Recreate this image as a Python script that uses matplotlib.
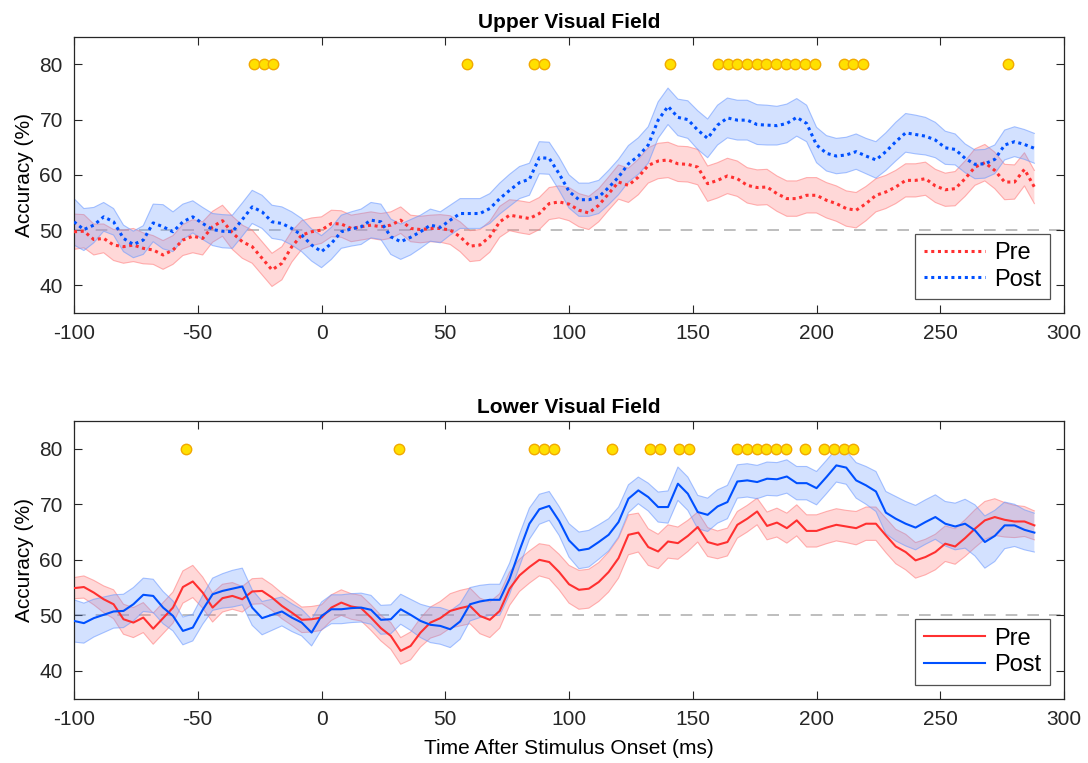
import numpy as np
import matplotlib.pyplot as plt

plt.rcParams['font.family'] = ['Liberation Sans', 'DejaVu Sans']
plt.rcParams['axes.unicode_minus'] = False

# time axis (ms), one sample every 4 ms
times = np.arange(-100, 289, 4)

# ---- Upper visual field ----
upper_pre = [
    49.7, 49.8, 48.3, 48.5, 47.3, 47.0, 47.3, 46.7, 46.4, 45.5,
    46.4, 48.2, 48.9, 48.5, 50.6, 51.7, 49.5, 47.9, 47.0, 44.9,
    42.8, 44.0, 47.0, 49.1, 49.7, 50.0, 51.2, 51.1, 50.3, 50.6,
    50.9, 50.6, 50.9, 51.8, 50.3, 50.1, 50.3, 50.3, 50.0, 48.8,
    47.1, 47.3, 48.8, 51.5, 52.7, 52.4, 52.1, 53.0, 54.8, 55.1,
    54.7, 53.6, 53.1, 54.5, 56.6, 58.7, 58.1, 59.6, 61.7, 62.5,
    62.7, 62.0, 61.9, 61.4, 58.4, 59.0, 59.8, 59.3, 58.1, 57.7,
    57.8, 56.6, 55.7, 55.7, 56.3, 56.3, 55.4, 54.8, 53.9, 53.6,
    54.8, 56.3, 56.9, 57.8, 59.0, 59.0, 59.3, 58.0, 57.3, 57.5,
    59.3, 61.4, 62.2, 60.8, 58.7, 58.7, 61.0, 57.8]
upper_pre_sem = [
    3.2, 3.0, 2.8, 2.6, 2.8, 3.0, 3.0, 2.8, 2.6, 2.6,
    2.6, 2.8, 3.0, 3.0, 2.8, 2.8, 3.0, 3.0, 3.0, 3.0,
    3.0, 3.0, 2.8, 2.6, 2.5, 2.4, 2.4, 2.4, 2.4, 2.4,
    2.4, 2.4, 2.4, 2.4, 2.4, 2.4, 2.4, 2.5, 2.6, 2.7,
    2.8, 2.8, 2.8, 2.8, 2.8, 2.9, 2.9, 2.9, 2.9, 2.9,
    3.0, 3.0, 3.0, 3.0, 3.0, 3.1, 3.1, 3.2, 3.2, 3.2,
    3.2, 3.2, 3.2, 3.2, 3.2, 3.2, 3.2, 3.2, 3.2, 3.2,
    3.2, 3.2, 3.2, 3.2, 3.2, 3.2, 3.2, 3.2, 3.2, 3.2,
    3.1, 3.0, 3.0, 3.0, 3.0, 3.0, 3.0, 3.0, 3.0, 3.1,
    3.2, 3.3, 3.3, 3.3, 3.2, 3.1, 3.0, 3.0]
upper_post = [
    51.5, 50.1, 50.9, 52.4, 51.5, 48.5, 47.4, 48.2, 51.3, 50.6,
    49.7, 51.5, 52.4, 51.2, 50.1, 49.8, 49.7, 51.9, 54.2, 53.3,
    51.5, 51.2, 50.3, 49.1, 47.3, 46.1, 47.6, 49.7, 50.2, 50.6,
    51.8, 51.5, 48.8, 47.9, 48.7, 49.7, 50.9, 50.5, 51.8, 53.0,
    53.0, 53.0, 53.9, 55.7, 57.2, 58.6, 59.2, 63.1, 63.0, 60.2,
    57.0, 55.5, 55.5, 56.0, 57.7, 59.6, 62.0, 63.4, 65.4, 69.9,
    72.4, 70.4, 70.0, 68.1, 66.6, 69.0, 70.3, 69.9, 69.9, 69.1,
    69.0, 68.9, 69.3, 70.4, 69.3, 65.4, 63.9, 63.4, 63.6, 64.2,
    63.4, 62.7, 64.2, 66.0, 67.6, 67.3, 67.0, 66.3, 64.9, 64.6,
    63.0, 61.9, 62.0, 62.8, 65.4, 66.0, 65.5, 64.8]
upper_post_sem = [
    4.2, 3.8, 3.2, 2.6, 2.4, 2.4, 2.4, 2.6, 3.4, 4.0,
    3.6, 3.2, 2.9, 2.9, 2.9, 3.0, 3.0, 3.0, 3.0, 3.0,
    3.0, 3.0, 3.0, 3.0, 2.9, 2.9, 2.9, 3.0, 3.1, 3.2,
    3.2, 3.2, 3.2, 3.2, 3.2, 3.0, 2.9, 2.8, 2.7, 2.7,
    2.7, 2.7, 2.7, 2.8, 2.9, 2.9, 2.9, 2.9, 2.9, 3.0,
    3.0, 3.0, 3.0, 3.0, 3.1, 3.2, 3.3, 3.3, 3.3, 3.3,
    3.3, 3.3, 3.4, 3.5, 3.5, 3.6, 3.6, 3.6, 3.6, 3.6,
    3.6, 3.5, 3.5, 3.4, 3.3, 3.2, 3.2, 3.2, 3.2, 3.2,
    3.2, 3.3, 3.4, 3.5, 3.5, 3.5, 3.4, 3.2, 3.0, 2.8,
    2.6, 2.6, 2.6, 2.6, 2.7, 2.7, 2.7, 2.7]
upper_sig = [-27.3, -23.4, -19.5, 58.6, 85.9, 89.8, 140.6,
             160.2, 164.1, 168.0, 171.9, 175.8, 179.7, 183.6, 187.5,
             191.4, 195.3, 199.2, 210.9, 214.8, 218.8, 277.3]

# ---- Lower visual field ----
lower_pre = [
    54.9, 55.1, 54.1, 52.9, 52.0, 49.3, 48.7, 49.6, 47.6, 49.5,
    51.4, 55.1, 56.1, 54.1, 51.4, 53.1, 53.5, 52.9, 54.3, 54.4,
    53.2, 51.7, 50.5, 49.2, 49.3, 49.6, 51.4, 52.3, 51.6, 51.3,
    49.6, 47.7, 46.3, 43.6, 44.5, 46.9, 48.7, 49.5, 50.8, 51.3,
    51.7, 49.9, 49.2, 50.8, 54.8, 57.2, 58.7, 60.0, 59.6, 57.8,
    55.6, 54.6, 54.8, 56.0, 57.8, 60.3, 64.5, 64.9, 62.3, 61.5,
    63.3, 63.0, 64.3, 65.9, 63.2, 62.7, 63.2, 66.3, 67.4, 68.7,
    66.1, 66.7, 65.7, 67.1, 65.2, 65.2, 65.8, 66.3, 66.0, 65.7,
    66.5, 66.5, 64.4, 62.4, 61.4, 59.9, 60.5, 61.4, 62.9, 62.4,
    63.9, 65.6, 67.1, 67.7, 67.2, 66.9, 66.9, 66.2]
lower_pre_sem = [
    1.9, 2.0, 2.2, 2.4, 2.6, 2.7, 2.7, 2.7, 2.8, 2.8,
    2.8, 2.9, 2.9, 2.8, 2.6, 2.5, 2.4, 2.3, 2.3, 2.3,
    2.3, 2.3, 2.3, 2.3, 2.3, 2.3, 2.3, 2.3, 2.3, 2.3,
    2.3, 2.3, 2.4, 2.4, 2.5, 2.6, 2.8, 3.0, 3.1, 3.2,
    3.2, 3.2, 3.2, 3.1, 3.0, 2.9, 2.9, 2.9, 3.0, 3.2,
    3.4, 3.5, 3.5, 3.5, 3.6, 3.6, 3.6, 3.5, 3.3, 3.1,
    3.0, 2.9, 2.8, 2.7, 2.6, 2.5, 2.5, 2.4, 2.4, 2.4,
    2.5, 2.6, 2.7, 2.8, 2.9, 2.9, 2.9, 2.9, 2.9, 3.0,
    3.0, 3.0, 3.1, 3.1, 3.2, 3.2, 3.2, 3.2, 3.2, 3.2,
    3.3, 3.4, 3.4, 3.3, 3.1, 2.9, 2.7, 2.6]
lower_post = [
    49.0, 48.6, 49.5, 50.1, 50.7, 50.8, 52.0, 53.7, 53.5, 51.4,
    49.9, 47.2, 47.8, 51.0, 53.8, 54.4, 54.8, 55.2, 51.4, 49.5,
    50.1, 50.7, 49.6, 48.7, 46.9, 49.9, 51.1, 51.1, 51.3, 51.4,
    51.0, 49.2, 49.3, 51.1, 50.1, 49.0, 48.3, 48.1, 47.5, 48.9,
    52.0, 52.5, 52.8, 52.8, 56.6, 61.7, 66.5, 69.1, 69.7, 67.0,
    63.5, 61.7, 62.0, 63.2, 64.5, 66.8, 71.0, 72.5, 71.3, 69.5,
    69.5, 73.7, 71.9, 68.6, 68.1, 69.6, 70.4, 74.1, 74.3, 74.0,
    74.6, 74.5, 75.0, 73.8, 73.8, 72.9, 74.9, 77.0, 76.6, 74.3,
    73.4, 72.3, 68.5, 67.4, 66.5, 65.8, 66.8, 67.7, 66.5, 66.0,
    66.5, 65.3, 63.2, 64.3, 66.2, 66.2, 65.4, 64.9]
lower_post_sem = [
    3.8, 3.6, 3.4, 3.2, 3.0, 3.0, 3.0, 3.0, 3.0, 2.9,
    2.7, 2.5, 2.4, 2.6, 2.9, 3.1, 3.3, 3.3, 3.2, 3.0,
    2.8, 2.6, 2.5, 2.4, 2.4, 2.5, 2.6, 2.6, 2.6, 2.6,
    2.6, 2.6, 2.6, 2.7, 2.8, 3.0, 3.2, 3.3, 3.3, 3.2,
    3.0, 2.9, 2.8, 2.8, 2.8, 2.9, 2.8, 2.7, 2.6, 2.6,
    3.0, 3.3, 3.3, 3.1, 2.9, 2.7, 2.5, 2.4, 2.5, 2.7,
    2.9, 3.0, 3.0, 3.0, 3.0, 3.0, 3.0, 3.0, 3.0, 3.0,
    3.0, 3.0, 3.0, 3.0, 3.0, 3.0, 3.0, 3.0, 3.0, 3.2,
    3.4, 3.6, 3.8, 4.0, 4.0, 4.0, 4.0, 4.0, 4.0, 4.2,
    4.4, 4.6, 4.7, 4.6, 4.2, 3.8, 3.6, 3.5]
lower_sig = [-54.7, 31.3, 85.9, 89.8, 93.8, 117.2, 132.8, 136.7, 144.5,
             148.4, 168.0, 171.9, 175.8, 179.7, 183.6, 187.5, 195.3,
             203.1, 207.0, 210.9, 214.8]

sig_level = 80
chance = 50
xticks = np.arange(-100, 301, 50)
yticks = [40, 50, 60, 70, 80]

red = '#ff3030'
blue = '#0050ff'
red_fill = '#ff8080'
blue_fill = '#6f9cff'
dark = '#262626'


def draw_panel(ax, pre, pre_sem, post, post_sem, sig, title, ls):
    pre, pre_sem = np.array(pre), np.array(pre_sem)
    post, post_sem = np.array(post), np.array(post_sem)
    ax.axhline(chance, color='#b3b3b3', lw=1.2, dashes=(7, 6), zorder=1)
    for m, s, fc in [(pre, pre_sem, red_fill), (post, post_sem, blue_fill)]:
        ax.fill_between(times, m - s, m + s, facecolor=fc, alpha=0.3,
                        edgecolor='none', zorder=2)
        ax.plot(times, m - s, color=fc, lw=0.8, alpha=0.6, zorder=2)
        ax.plot(times, m + s, color=fc, lw=0.8, alpha=0.6, zorder=2)
    lw = 1.5 if ls == '-' else 2.2
    ax.plot(times, pre, color=red, lw=lw, ls=ls, label='Pre', zorder=3)
    ax.plot(times, post, color=blue, lw=lw, ls=ls, label='Post', zorder=3)
    ax.plot(sig, [sig_level] * len(sig), 'o', ms=7.5, mfc='#ffe000',
            mec='#f2a900', mew=1.0, zorder=4)

    ax.set_xlim(-100, 300)
    ax.set_ylim(35, 85)
    ax.set_xticks(xticks)
    ax.set_yticks(yticks)
    ax.tick_params(direction='in', length=6, width=0.8, top=True,
                   right=True, labelsize=15, colors=dark, pad=8)
    for sp in ax.spines.values():
        sp.set_color(dark)
        sp.set_linewidth(0.9)
    ax.set_title(title, fontsize=15, fontweight='bold', pad=6)
    ax.set_ylabel('Accuracy (%)', fontsize=15, labelpad=4)
    leg = ax.legend(loc='lower right', fontsize=17, frameon=True,
                    fancybox=False, edgecolor='#262626', handlelength=2.6,
                    handletextpad=0.4, borderpad=0.35, labelspacing=0.2,
                    borderaxespad=0.6)
    leg.get_frame().set_linewidth(0.9)


fig = plt.figure(figsize=(10.88, 7.63), dpi=100)
ax1 = fig.add_axes([0.068, 0.5898, 0.91, 0.3621])
ax2 = fig.add_axes([0.068, 0.0843, 0.91, 0.364])

draw_panel(ax1, upper_pre, upper_pre_sem, upper_post, upper_post_sem,
           upper_sig, 'Upper Visual Field', (0, (1, 1.2)))
draw_panel(ax2, lower_pre, lower_pre_sem, lower_post, lower_post_sem,
           lower_sig, 'Lower Visual Field', '-')
ax2.set_xlabel('Time After Stimulus Onset (ms)', fontsize=15, labelpad=7)

fig.savefig('out.png', dpi=100)
